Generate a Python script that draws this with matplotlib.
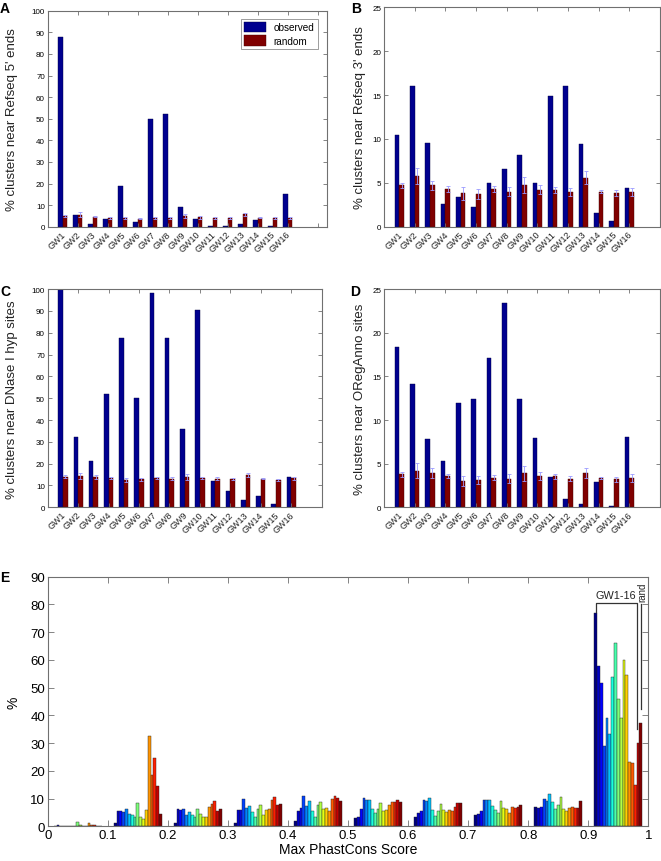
import numpy as np
import matplotlib
matplotlib.use('Agg')
import matplotlib.pyplot as plt

plt.rcParams['font.family'] = ['Liberation Sans', 'DejaVu Sans']

# Data
gw_labels = ['GW%d' % i for i in range(1, 17)]

obs_a = [88, 5.5, 1.3, 3.5, 19, 2.3, 50, 52, 9, 3.8, 0.5, 0.2, 1.2, 2.9, 0.4, 15]
rnd_a = [4.8, 5.6, 4.7, 4.2, 4.0, 3.8, 4.2, 4.0, 5.0, 4.3, 4.2, 4.0, 5.8, 4.2, 3.9, 4.1]
err_a = [0.5, 1.0, 0.4, 0.4, 0.6, 0.4, 0.4, 0.5, 0.8, 0.6, 0.4, 0.4, 0.7, 0.3, 0.4, 0.5]

obs_b = [10.5, 16, 9.5, 2.6, 3.4, 2.2, 5.0, 6.6, 8.2, 5.0, 14.9, 16, 9.4, 1.6, 0.7, 4.4]
rnd_b = [4.7, 5.8, 4.7, 4.3, 3.8, 3.75, 4.3, 4.0, 4.8, 4.2, 4.2, 4.0, 5.6, 4.0, 3.85, 4.0]
err_b = [0.3, 0.9, 0.5, 0.35, 0.7, 0.55, 0.3, 0.5, 0.9, 0.5, 0.3, 0.45, 0.7, 0.2, 0.3, 0.45]

obs_c = [100, 32, 21, 52, 77.5, 50, 98, 77.5, 36, 90.5, 12, 7.3, 3.4, 5.4, 1.5, 14]
rnd_c = [14, 14.5, 13.8, 13.5, 12.5, 12.8, 13.4, 13.2, 14, 13.4, 13.2, 13, 14.6, 13.2, 12.7, 13.3]
err_c = [0.7, 1.3, 0.9, 0.6, 1.0, 0.7, 0.5, 0.8, 1.3, 0.6, 0.5, 0.6, 0.9, 0.3, 0.5, 0.6]

obs_d = [18.4, 14.1, 7.8, 5.35, 11.9, 12.4, 17.15, 23.35, 12.4, 7.9, 3.45, 1.0, 0.4, 2.9, 0.1, 8.0]
rnd_d = [3.8, 4.2, 3.9, 3.6, 3.0, 3.1, 3.4, 3.3, 3.9, 3.6, 3.55, 3.3, 3.95, 3.4, 3.2, 3.4]
err_d = [0.3, 0.85, 0.55, 0.25, 0.6, 0.45, 0.3, 0.5, 0.85, 0.45, 0.3, 0.3, 0.6, 0.1, 0.3, 0.45]

# Panel E: % per PhastCons bin, 17 bars per bin (GW1..GW16, rand)
bin_centers = [0.05, 0.15, 0.25, 0.35, 0.45, 0.55, 0.65, 0.75, 0.85, 0.95]
phast = [
    [0, 0.6, 0.1, 0.1, 0.2, 0, 0, 0, 1.4, 0.3, 0, 0, 1.2, 0.6, 0.5, 0.2, 0],
    [1.0, 5.4, 5.6, 5.0, 6.3, 4.6, 3.9, 3.2, 8.3, 3.3, 2.6, 5.8, 32.5, 18.4, 24.5, 14.5, 4.4],
    [1.0, 6.3, 5.7, 6.1, 4.1, 5.0, 4.2, 3.3, 6.1, 4.4, 3.3, 3.3, 7.0, 8.2, 9.0, 5.6, 6.1],
    [1.2, 5.9, 5.8, 10.0, 6.6, 7.3, 5.2, 3.5, 6.2, 7.6, 4.0, 5.8, 6.3, 9.5, 10.7, 7.8, 8.2],
    [2.0, 5.5, 6.7, 11.0, 7.2, 9.0, 5.5, 3.3, 7.7, 8.9, 6.2, 6.5, 5.5, 10.0, 11.0, 10.3, 9.0],
    [3.1, 3.2, 6.2, 10.2, 9.4, 9.3, 6.2, 4.7, 6.4, 8.3, 5.6, 6.0, 7.5, 8.7, 8.9, 9.4, 8.7],
    [3.2, 4.8, 5.4, 9.3, 9.0, 10.1, 5.8, 3.8, 5.4, 8.2, 6.0, 5.3, 6.0, 5.4, 7.0, 8.5, 8.5],
    [4.2, 4.4, 5.5, 9.4, 9.4, 9.4, 7.3, 6.0, 4.9, 9.0, 6.5, 6.2, 4.8, 6.9, 6.7, 7.0, 7.8],
    [6.9, 6.5, 6.9, 9.8, 9.2, 11.8, 8.8, 6.2, 7.5, 10.5, 6.1, 5.4, 6.7, 6.9, 6.6, 6.6, 9.0],
    [76.9, 57.9, 51.7, 29.1, 39.1, 33.3, 53.7, 66.1, 45.9, 39.1, 60.1, 54.6, 23.3, 22.8, 14.9, 30.0, 37.3],
]

navy = '#00008f'
dred = '#800000'
errc = '#9a9aff'
spine_c = '#707070'

fig = plt.figure(figsize=(6.61, 8.62), dpi=100)


def style_axes(ax, fs):
    for s in ax.spines.values():
        s.set_color(spine_c)
        s.set_linewidth(0.8)
    ax.tick_params(direction='in', top=True, right=True, length=3, width=0.6,
                   color=spine_c, labelsize=fs, pad=2)


def bar_panel(rect, obs, rnd, err, ymax, ystep, ylabel, xlim, letter, letter_xy, ylab_x):
    ax = fig.add_axes(rect)
    x = np.arange(1, 17)
    w = 0.3
    ax.bar(x - w / 2, obs, w, color=navy, edgecolor='#000040', linewidth=0.3, label='observed')
    ax.bar(x + w / 2, rnd, w, color=dred, edgecolor='#400000', linewidth=0.3, label='random')
    ax.errorbar(x + w / 2, rnd, yerr=err, fmt='none', ecolor=errc, elinewidth=0.6,
                capsize=1.5, capthick=0.6)
    ax.set_xlim(*xlim)
    ax.set_ylim(0, ymax)
    ax.set_xticks(np.arange(0, 19, 2))
    ax.set_xticklabels([])
    ax.set_yticks(np.arange(0, ymax + 1, ystep))
    style_axes(ax, 5.8)
    # rotated group labels under the axis
    for xi, lab in zip(x, gw_labels):
        ax.text(xi + 0.3, -0.012 * ymax, lab, rotation=45, ha='right', va='top', fontsize=6.5,
                color='#222222')
    ax.set_ylabel(ylabel, fontsize=9.5, color='#222222')
    ax.yaxis.set_label_coords(ylab_x, 0.5)
    fig.text(letter_xy[0], letter_xy[1], letter, fontsize=10, fontweight='bold', va='top')
    return ax


axA = bar_panel([0.0722, 0.7358, 0.4221, 0.2506], obs_a, rnd_a, err_a, 100, 10,
                "% clusters near Refseq 5' ends", (0.26, 18.6), 'A', (0.0, 0.998), -0.105)
leg = axA.legend(loc='upper right', fontsize=7.2, frameon=True, fancybox=False,
                 handlelength=2.2, handleheight=1.2, borderpad=0.3, labelspacing=0.3,
                 bbox_to_anchor=(0.985, 0.985))
leg.get_frame().set_edgecolor(spine_c)
leg.get_frame().set_linewidth(0.6)

bar_panel([0.5809, 0.7358, 0.4176, 0.2545], obs_b, rnd_b, err_b, 25, 5,
          "% clusters near Refseq 3' ends", (0, 18), 'B', (0.531, 0.998), -0.065)
bar_panel([0.0722, 0.4103, 0.4145, 0.2532], obs_c, rnd_c, err_c, 100, 10,
          "% clusters near DNase I hyp sites", (0.2, 18), 'C', (0.0, 0.669), -0.107)
bar_panel([0.5809, 0.4103, 0.4176, 0.2532], obs_d, rnd_d, err_d, 25, 5,
          "% clusters near ORegAnno sites", (0, 18), 'D', (0.529, 0.669), -0.065)

# Panel E
axE = fig.add_axes([0.0722, 0.0403, 0.9086, 0.2896])
colors = plt.cm.jet(np.linspace(0, 1, 17))
bw = 0.08 / 17
for j in range(17):
    xs = np.array(bin_centers) + (j - 8) * bw
    hs = [row[j] for row in phast]
    axE.bar(xs, hs, bw, color=colors[j], edgecolor='#202020', linewidth=0.3)
axE.set_xlim(0, 1)
axE.set_ylim(0, 90)
axE.set_xticks(np.arange(0, 1.01, 0.1))
axE.set_xticklabels(['0', '0.1', '0.2', '0.3', '0.4', '0.5', '0.6', '0.7', '0.8', '0.9', '1'])
axE.set_yticks(np.arange(0, 91, 10))
style_axes(axE, 9.5)
axE.tick_params(length=4)
axE.set_xlabel('Max PhastCons Score', fontsize=10, labelpad=1)
axE.set_ylabel('%', fontsize=10)
axE.yaxis.set_label_coords(-0.046, 0.5)
fig.text(0.0, 0.338, 'E', fontsize=10, fontweight='bold', va='top')

# bracket marking GW1-16 and rand
axE.plot([0.913, 0.913, 0.982, 0.982], [77.4, 80.5, 80.5, 35.1], color='#333333', lw=0.9)
axE.plot([0.988, 0.988], [80.2, 42.3], color='#333333', lw=0.9)
axE.text(0.946, 81.5, 'GW1-16', ha='center', va='bottom', fontsize=7.8, color='#222222')
axE.text(0.990, 81.2, 'rand', ha='center', va='bottom', rotation=90, fontsize=7, color='#222222')

fig.savefig('out.png', dpi=100)
